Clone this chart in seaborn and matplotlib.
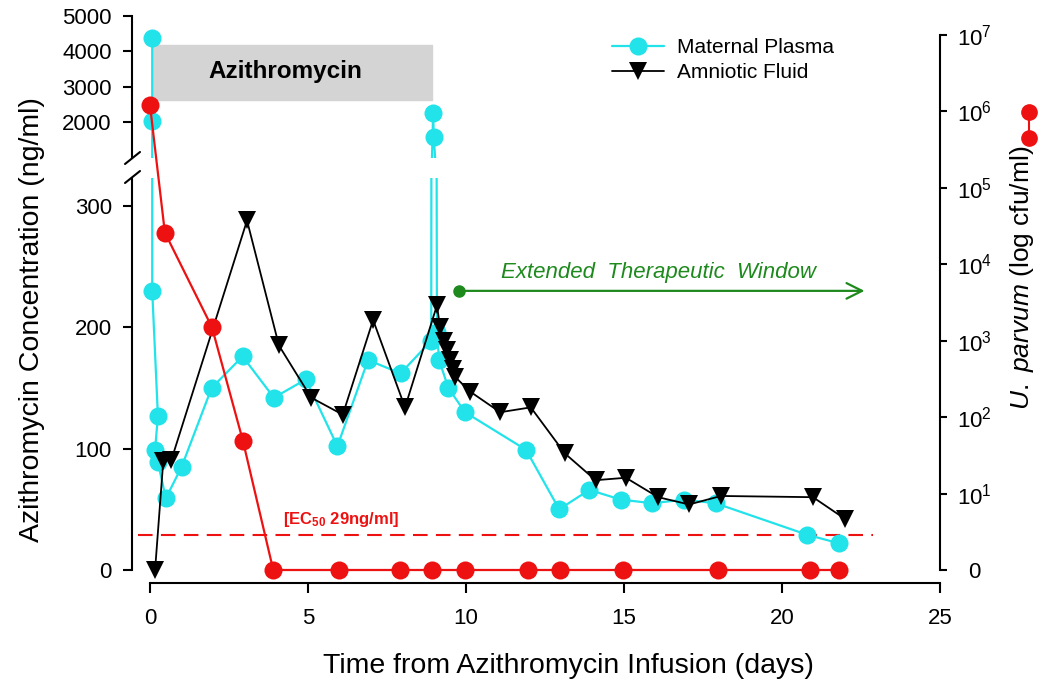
import numpy as np
import matplotlib
matplotlib.use("Agg")
import matplotlib.pyplot as plt
import seaborn as sns
from matplotlib.lines import Line2D
from matplotlib.patches import Rectangle

# Estilo general
sns.set_theme(style="ticks")
plt.rcParams["font.family"] = ["Liberation Sans", "DejaVu Sans"]
plt.rcParams["mathtext.fontset"] = "custom"
plt.rcParams["mathtext.rm"] = "Liberation Sans"
plt.rcParams["mathtext.it"] = "Liberation Sans:italic"
plt.rcParams["mathtext.bf"] = "Liberation Sans:bold"
plt.rcParams["text.color"] = "black"
plt.rcParams["axes.labelcolor"] = "black"

# Datos
plasma_dias = [0.07, 0.07, 0.07, 0.25, 0.16, 0.25, 0.5, 1.0, 1.95, 2.93, 3.92, 4.93,
               5.93, 6.9, 7.93, 8.9, 8.96, 8.98, 9.08, 9.15, 9.44, 9.97, 11.9, 12.95,
               13.9, 14.9, 15.9, 16.9, 17.9, 20.8, 21.8]
plasma_conc = [4380, 2030, 230, 127, 99, 89, 59, 85, 150, 176, 142, 157,
               102, 173, 162, 189, 2250, 1580, 196, 173, 150, 130, 99, 50,
               66, 58, 55, 58, 55, 29, 22]

amnio_dias = [0.16, 0.42, 0.68, 3.07, 4.08, 5.1, 6.1, 7.06, 8.07, 9.08, 9.18, 9.3,
              9.4, 9.5, 9.58, 9.66, 10.13, 11.08, 12.05, 13.13, 14.1, 15.06, 16.08,
              17.06, 18.07, 20.98, 22.0]
amnio_conc = [0, 90, 91, 288, 185, 142, 128, 206, 134, 218, 200, 189,
              181, 173, 166, 159, 147, 130, 134, 96, 74, 76, 60,
              54, 61, 60, 42]

parvum_dias = [0, 0.47, 1.96, 2.94, 3.9, 5.98, 7.9, 8.92, 9.97, 11.96, 12.97,
               14.97, 17.97, 20.9, 21.8]
parvum_cfu = [1.2e6, 2.6e4, 1.5e3, 49, 1, 1, 1, 1, 1, 1, 1, 1, 1, 1, 1]

ec50 = 29
ticks_bajo = [0, 100, 200, 300]
ticks_alto = [2000, 3000, 4000, 5000]
ticks_x = [0, 5, 10, 15, 20, 25]
ticks_log = [10.0 ** k for k in range(8)]
etiquetas_log = ["0"] + [rf"$10^{{{k}}}$" for k in range(1, 8)]

cian = "#22E3EA"
rojo = "#EE1111"
verde = "#1E8A1E"

W, H = 1050, 691
fig = plt.figure(figsize=(10.5, 6.91), dpi=100)


def caja(x0, y0, x1, y1):
    return [x0 / W, 1 - y1 / H, (x1 - x0) / W, (y1 - y0) / H]


ax_bot = fig.add_axes(caja(132, 178, 940, 570))
ax_top = fig.add_axes(caja(132, 16, 940, 158))
ax_r = fig.add_axes(caja(132, 35, 940, 570))
for a in (ax_top, ax_r):
    a.patch.set_alpha(0)

xlim = (-0.57, 25)

# Plasma materno en los dos tramos del eje cortado
for a in (ax_bot, ax_top):
    sns.lineplot(x=plasma_dias, y=plasma_conc, sort=False, estimator=None, ax=a,
                 color=cian, lw=1.6, marker="o", markersize=13,
                 markeredgecolor=cian, markeredgewidth=0, label="Maternal Plasma",
                 zorder=3)

sns.lineplot(x=amnio_dias, y=amnio_conc, sort=False, estimator=None, ax=ax_bot,
             color="black", lw=1.3, marker="v", markersize=13.5,
             markeredgecolor="black", markeredgewidth=0, label="Amniotic Fluid",
             clip_on=False, zorder=4)

sns.lineplot(x=parvum_dias, y=parvum_cfu, sort=False, estimator=None, ax=ax_r,
             color=rojo, lw=1.6, marker="o", markersize=13,
             markeredgecolor=rojo, markeredgewidth=0, clip_on=False, zorder=5)

handles, labels = ax_bot.get_legend_handles_labels()
for a in (ax_bot, ax_top, ax_r):
    if a.get_legend() is not None:
        a.get_legend().remove()

# Linea EC50
ax_bot.plot([-0.38, 22.88], [ec50, ec50], color=rojo, lw=1.5, dashes=(7, 4), zorder=2)
ax_bot.text(6.05, 42, r"$\mathbf{[EC_{50}\ 29ng/ml]}$", color=rojo, fontsize=12,
            ha="center", va="center")

# Ventana terapeutica extendida
ax_bot.plot([9.78], [230], "o", color=verde, ms=8, zorder=5)
ax_bot.annotate("", xy=(22.7, 230), xytext=(9.78, 230),
                arrowprops=dict(arrowstyle="->", color=verde, lw=1.6, mutation_scale=28))
ax_bot.text(16.1, 245, "Extended  Therapeutic  Window", color=verde, fontsize=16,
            style="italic", ha="center", va="center")

# Recuadro de azitromicina
ax_top.add_patch(Rectangle((0.1, 2620), 8.82, 1563, color="#d4d4d4", zorder=0))
ax_top.text(4.27, 3420, "Azithromycin", fontsize=17.5, fontweight="bold",
            ha="center", va="center")

# Ejes
ax_bot.set_xlim(xlim)
ax_bot.set_ylim(0, 323)
ax_bot.set_yticks(ticks_bajo)
ax_bot.set_xticks(ticks_x)
ax_bot.spines[["top", "right"]].set_visible(False)
ax_bot.spines["bottom"].set_position(("outward", 9.4))
ax_bot.spines["bottom"].set_bounds(0, 25)

ax_top.set_xlim(xlim)
ax_top.set_ylim(990, 5000)
ax_top.set_yticks(ticks_alto)
ax_top.spines[["top", "right", "bottom"]].set_visible(False)
ax_top.tick_params(axis="x", bottom=False, labelbottom=False)

ax_r.set_xlim(xlim)
ax_r.set_yscale("log")
ax_r.set_ylim(1, 1e7)
ax_r.set_yticks(ticks_log)
ax_r.set_yticklabels(etiquetas_log)
ax_r.minorticks_off()
ax_r.yaxis.tick_right()
ax_r.spines[["top", "left", "bottom"]].set_visible(False)
ax_r.tick_params(axis="x", bottom=False, labelbottom=False)

for a in (ax_bot, ax_top, ax_r):
    for s in a.spines.values():
        s.set_linewidth(1.5)
        s.set_color("black")
    a.tick_params(axis="y", length=6.5, width=1.5, labelsize=16, pad=8, colors="black")
ax_bot.tick_params(axis="x", length=7.2, width=1.5, labelsize=16, pad=11, colors="black")
ax_r.tick_params(axis="y", length=5, pad=20)
for t in ax_r.get_yticklabels():
    t.set_horizontalalignment("center")

# Marcas del corte
for yc in (158, 177):
    fig.add_artist(Line2D([125 / W, 140 / W], [1 - (yc + 6) / H, 1 - (yc - 6) / H],
                          color="black", lw=1.5, transform=fig.transFigure))

# Titulos de ejes
fig.text(32 / W, 1 - 320 / H, "Azithromycin Concentration (ng/ml)", rotation=90,
         ha="center", va="center", fontsize=20.5)
fig.text(568 / W, 1 - 666 / H, "Time from Azithromycin Infusion (days)",
         ha="center", va="center", fontsize=20.5)
fig.text(1022 / W, 1 - 278 / H, r"$\mathit{U.\ parvum}$ (log cfu/ml)", rotation=90,
         ha="center", va="center", fontsize=19)

fig.add_artist(Line2D([1029 / W, 1029 / W], [1 - 112 / H, 1 - 138 / H], color=rojo,
                      lw=1.5, marker="o", ms=11, transform=fig.transFigure))

fig.legend(handles, labels, loc="upper left", bbox_to_anchor=(612 / W, 1 - 38 / H),
           frameon=False, fontsize=15, handlelength=2.5, handletextpad=0.6,
           labelspacing=0.3, borderpad=0, borderaxespad=0)

fig.savefig("out.png", dpi=100)
